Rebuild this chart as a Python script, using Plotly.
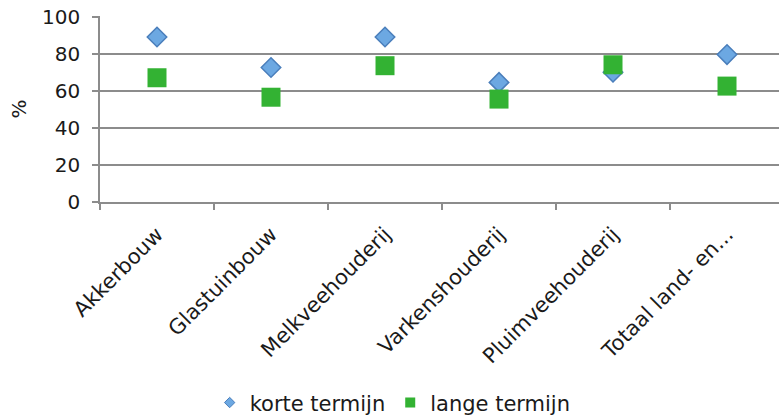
import plotly.graph_objects as go

categories = ["Akkerbouw", "Glastuinbouw", "Melkveehouderij", "Varkenshouderij",
              "Pluimveehouderij", "Totaal land- en..."]
korte_termijn = [89, 72.5, 89, 64.5, 70, 79.5]
lange_termijn = [67, 56.5, 73.5, 55.5, 74, 62.5]
y_ticks = [0, 20, 40, 60, 80, 100]

FONT = "DejaVu Sans, Verdana, sans-serif"
GRID = "#8c8c8c"
TXT = "#1a1a1a"
BLUE = "#6CA8E2"
BLUE_LINE = "#4A7EBB"
GREEN = "#33B233"

fig = go.Figure()
fig.add_trace(go.Scatter(
    x=categories, y=korte_termijn, mode="markers", name="korte termijn",
    showlegend=False,
    marker=dict(symbol="diamond", size=15, color=BLUE,
                line=dict(color=BLUE_LINE, width=1.5)),
))
fig.add_trace(go.Scatter(
    x=categories, y=lange_termijn, mode="markers", name="lange termijn",
    showlegend=False,
    marker=dict(symbol="square", size=19, color=GREEN, line=dict(width=0)),
))
# legend entries with small symbols
fig.add_trace(go.Scatter(
    x=[None], y=[None], mode="markers", name="korte termijn",
    marker=dict(symbol="diamond", size=8, color=BLUE,
                line=dict(color=BLUE_LINE, width=1)),
))
fig.add_trace(go.Scatter(
    x=[None], y=[None], mode="markers", name="lange termijn",
    marker=dict(symbol="square", size=10, color=GREEN, line=dict(width=0)),
))

fig.update_layout(
    width=779, height=417,
    margin=dict(l=100, r=0, t=16, b=215, autoexpand=False),
    paper_bgcolor="white", plot_bgcolor="white",
    font=dict(family=FONT, size=20, color=TXT),
    showlegend=True,
    legend=dict(orientation="h", x=0.431, xanchor="center", y=-1.08, yanchor="middle",
                font=dict(family=FONT, size=21, color=TXT), itemsizing="trace",
                itemwidth=30, traceorder="normal", tracegroupgap=0),
    xaxis=dict(
        type="category", range=[-0.5, 5.456],
        showgrid=False, showline=True, linecolor=GRID, linewidth=1.5,
        ticks="outside", ticklen=6, tickcolor=GRID, tickwidth=1.5,
        tickson="boundaries", tickangle=-45,
        ticklabelstandoff=10,
        tickfont=dict(family=FONT, size=21, color=TXT),
    ),
    yaxis=dict(
        range=[0, 100.3], tickvals=y_ticks,
        showgrid=True, gridcolor=GRID, gridwidth=1.5,
        showline=True, linecolor=GRID, linewidth=1.5,
        zeroline=False,
        ticks="outside", ticklen=6, tickcolor=GRID, tickwidth=1.5,
        ticklabelstandoff=8, ticklabeloverflow="allow",
        tickfont=dict(family=FONT, size=20, color=TXT),
        title=dict(text="%", font=dict(family=FONT, size=20, color=TXT), standoff=10),
    ),
)

fig.write_html("out.html", config={"displayModeBar": False},
               post_script="document.body.style.margin='0';")
